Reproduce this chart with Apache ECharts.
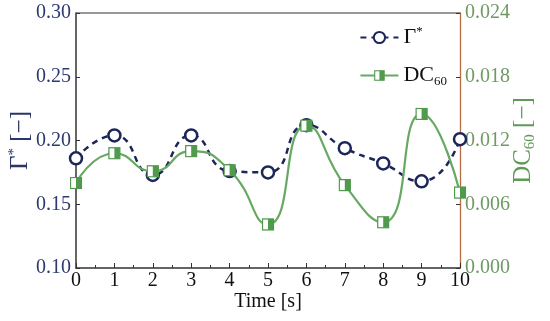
<!DOCTYPE html>
<html>
<head>
<meta charset="utf-8">
<script src="https://cdn.jsdelivr.net/npm/echarts@6/dist/echarts.min.js"></script>
<style>html,body{margin:0;padding:0;background:#fff}#c{width:550px;height:321px}</style>
</head>
<body>
<div id="c"></div>
<script>
var times = [0, 1, 2, 3, 4, 5, 6, 7, 8, 9, 10];
var gammaStar = [0.186, 0.204, 0.173, 0.204, 0.176, 0.175, 0.212, 0.194, 0.182, 0.168, 0.201];
var dc60 = [0.0080, 0.0108, 0.0091, 0.0110, 0.0092, 0.0041, 0.0134, 0.0078, 0.0043, 0.0145, 0.0071];
var xTicks = [0, 1, 2, 3, 4, 5, 6, 7, 8, 9, 10];
var leftTicks = [0.10, 0.15, 0.20, 0.25, 0.30];
var rightTicks = [0.000, 0.006, 0.012, 0.018, 0.024];

var navy = '#1c2658';
var green = '#67a863';
var greenDark = '#4f9a4d';
var serif = 'Liberation Serif';

var sqSvg = "<svg xmlns='http://www.w3.org/2000/svg' width='26' height='26'><rect x='2' y='2' width='22' height='22' fill='white' stroke='" + greenDark + "' stroke-width='2.5'/><rect x='13' y='2' width='11' height='22' fill='" + greenDark + "'/></svg>";
var sqSymbol = 'image://data:image/svg+xml;charset=utf-8,' + encodeURIComponent(sqSvg);

var chart = echarts.init(document.getElementById('c'), null, {renderer: 'canvas'});
chart.setOption({
  animation: false,
  backgroundColor: '#fff',
  grid: {left: 76, right: 90, top: 13, bottom: 53, containLabel: false, outerBoundsMode: 'none'},
  legend: {
    orient: 'vertical',
    right: 98,
    top: 20,
    itemWidth: 38,
    itemHeight: 14,
    itemGap: 16,
    data: ['G', 'D'],
    formatter: function (n) {
      return n === 'G' ? '{m|Γ}{sup|*}' : '{m|DC}{sub|60}';
    },
    textStyle: {
      fontFamily: serif, color: '#111',
      rich: {
        m: {fontFamily: serif, fontSize: 22, color: '#111'},
        sup: {fontFamily: serif, fontSize: 13, color: '#111', padding: [0, 0, 12, 0]},
        sub: {fontFamily: serif, fontSize: 13, color: '#111', padding: [12, 0, 0, 0]}
      }
    }
  },
  xAxis: [{
    type: 'value',
    min: 0, max: 10, interval: 1,
    name: 'Time [s]',
    nameLocation: 'middle',
    nameGap: 24,
    nameMoveOverlap: false,
    nameTextStyle: {fontFamily: serif, fontSize: 20, color: '#111'},
    axisLine: {onZero: false, lineStyle: {color: '#333', width: 1.5}},
    axisTick: {inside: true, length: 5, lineStyle: {color: '#333'}},
    minorTick: {show: true, splitNumber: 2, length: 3, lineStyle: {color: '#333'}},
    axisLabel: {fontFamily: serif, fontSize: 20, color: '#111', margin: 3,
      formatter: function (v) { return xTicks.indexOf(v) >= 0 ? String(v) : ''; }},
    splitLine: {show: false}
  }, {
    type: 'value', position: 'top', min: 0, max: 10,
    axisLine: {show: true, onZero: false, lineStyle: {color: '#777', width: 1.5}},
    axisTick: {show: false}, axisLabel: {show: false}, splitLine: {show: false}
  }],
  yAxis: [{
    type: 'value',
    position: 'left',
    min: 0.10, max: 0.30, interval: 0.05,
    name: '{m|Γ}{sup|*}{m| [−]}',
    nameLocation: 'middle',
    nameGap: 42,
    nameMoveOverlap: false,
    nameRotate: 90,
    nameTextStyle: {
      fontFamily: serif, fontSize: 24, color: navy,
      rich: {
        m: {fontFamily: serif, fontSize: 25, color: '#2b3668'},
        sup: {fontFamily: serif, fontSize: 15, color: '#2b3668', padding: [0, 0, 12, 0]}
      }
    },
    axisLine: {show: true, onZero: false, lineStyle: {color: '#333', width: 1.5}},
    axisTick: {inside: true, length: 4, lineStyle: {color: '#333'}},
    axisLabel: {fontFamily: serif, fontSize: 20, color: '#2e3a6e', margin: 5,
      formatter: function (v) { return v.toFixed(2); }},
    splitLine: {show: false}
  }, {
    type: 'value',
    position: 'right',
    min: 0, max: 0.024, interval: 0.006,
    name: '{m|DC}{sub|60}{m| [−]}',
    nameLocation: 'middle',
    nameGap: 49,
    nameMoveOverlap: false,
    nameRotate: 90,
    nameTextStyle: {
      fontFamily: serif, fontSize: 24, color: '#5f9a57',
      rich: {
        m: {fontFamily: serif, fontSize: 25, color: '#5f9a57'},
        sub: {fontFamily: serif, fontSize: 15, color: '#5f9a57', padding: [14, 0, 0, 0]}
      }
    },
    axisLine: {show: true, onZero: false, lineStyle: {color: '#b86a45', width: 1.3}},
    axisTick: {inside: true, length: 4, lineStyle: {color: '#333'}},
    axisLabel: {fontFamily: serif, fontSize: 20, color: '#6f9a63', margin: 5,
      formatter: function (v) { return v.toFixed(3); }},
    splitLine: {show: false}
  }],
  series: [{
    name: 'G',
    type: 'line',
    xAxisIndex: 0, yAxisIndex: 0,
    data: times.map(function (t, i) { return [t, gammaStar[i]]; }),
    smooth: 0.55,
    symbol: 'circle',
    symbolSize: 12,
    color: navy,
    itemStyle: {color: '#fff', borderColor: navy, borderWidth: 2.5},
    lineStyle: {color: navy, width: 2.5, type: [6, 5]},
    z: 2
  }, {
    name: 'D',
    type: 'line',
    xAxisIndex: 0, yAxisIndex: 1,
    data: times.map(function (t, i) { return [t, dc60[i]]; }),
    smooth: 0.55,
    symbol: sqSymbol,
    symbolSize: 13,
    color: green,
    itemStyle: {color: green},
    lineStyle: {color: green, width: 2.2},
    z: 3
  }]
});
</script>
</body>
</html>
